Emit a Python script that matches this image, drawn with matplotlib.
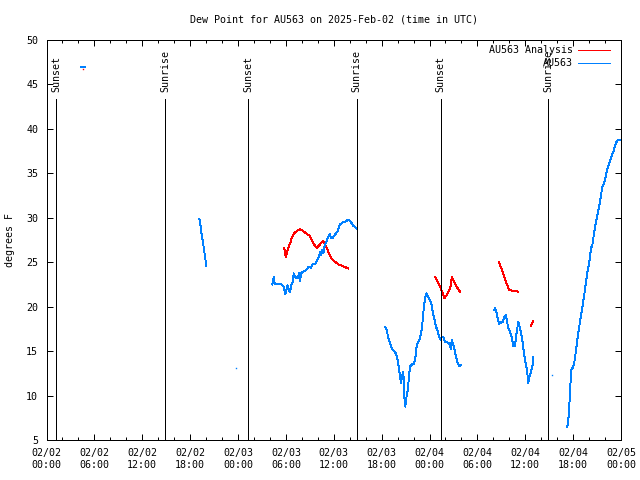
from datetime import datetime
import numpy as np
import matplotlib
matplotlib.use("Agg")
import matplotlib.pyplot as plt
import matplotlib.dates as mdates

nan = np.nan

# hours after 2025-02-02 00:00 UTC, nan separates data gaps
obs_hours = [4.29, 4.79, nan,
             19.15, 19.28, 19.40, 19.53, 19.65, 19.78, 19.90, 20.03, nan,
             23.75, nan,
             28.30, 28.51, 28.60, 29.48, 29.68, 29.93, 30.05, 30.23, 30.35, 30.52,
             30.68, 30.86, 30.98, 31.14, 31.31, 31.52, 31.65, 31.77, 31.93, 32.11,
             32.44, 32.69, 32.86, 33.11, 33.36, 33.65, 33.94, 34.15, 34.28, 34.40,
             34.57, 34.69, 34.90, 35.12, 35.32, 35.53, 35.66, 35.87, 36.16, 36.45,
             36.66, 36.78, 37.20, 37.54, 37.82, 38.13, 38.45, 38.88, nan,
             42.46, 42.64, 42.84, 43.05, 43.26, 43.55, 43.80, 44.02, 44.18, 44.30,
             44.43, 44.55, 44.72, 44.84, 44.97, 45.09, 45.27, 45.39, 45.56, 45.81,
             46.06, 46.27, 46.40, 46.60, 46.81, 47.02, 47.15, 47.22, 47.35, 47.53,
             47.65, 47.85, 48.06, 48.28, 48.40, 48.60, 48.82, 49.03, 49.23, 49.41,
             49.53, 49.73, 49.94, 50.36, 50.57, 50.70, 50.78, 50.91, 51.07, 51.32,
             51.49, 51.70, 51.91, nan,
             56.09, 56.21, 56.34, 56.50, 56.71, 56.92, 57.18, 57.38, 57.55, 57.68,
             57.88, 58.09, 58.30, 58.50, 58.72, 58.84, 59.01, 59.13, 59.26, 59.47,
             59.63, 59.76, 59.88, 60.01, 60.18, 60.31, 60.38, 60.51, 60.68, 60.81,
             60.94, 61.01, nan,
             63.39, nan,
             65.27, 65.40, 65.52, 65.61, 65.70, 65.77, 66.02, 66.20, 66.36, 66.53,
             66.70, 66.86, 67.03, 67.20, 67.36, 67.53, 67.70, 67.83, 67.99, 68.12,
             68.24, 68.41, 68.53, 68.66, 68.83, 68.96, 69.08, 69.21, 69.37, 69.50,
             69.66, 69.87, 70.03, 70.21, 70.37, 70.54, 70.71, 70.87, 71.04, 71.21,
             71.38, 71.54, 71.88]
obs_dewpt = [47.0, 47.0, nan,
             29.9, 29.3, 28.4, 27.7, 27.0, 26.2, 25.4, 24.6, nan,
             13.07, nan,
             22.5, 23.4, 22.5, 22.5, 22.3, 21.4, 21.9, 22.4, 22.0, 21.6,
             22.4, 22.74, 23.75, 23.4, 23.2, 23.26, 23.75, 22.9, 23.75, 23.9,
             24.05, 24.3, 24.5, 24.38, 24.75, 24.75, 25.25, 25.6, 26.2, 25.8,
             26.4, 26.0, 27.0, 27.4, 27.9, 28.15, 27.7, 27.76, 28.1, 28.45,
             29.0, 29.26, 29.5, 29.6, 29.8, 29.55, 29.1, 28.8, nan,
             17.68, 17.37, 16.44, 15.9, 15.3, 15.05, 14.7, 14.0, 12.95, 12.1,
             11.4, 12.1, 12.7, 9.9, 8.75, 9.7, 10.6, 11.75, 13.3, 13.5,
             13.6, 14.55, 15.7, 16.05, 16.44, 17.4, 18.5, 19.25, 20.4, 21.3,
             21.5, 21.05, 20.75, 20.2, 19.43, 18.7, 17.75, 17.2, 16.55, 16.25,
             16.6, 16.55, 16.06, 15.95, 15.7, 15.2, 16.25, 15.95, 15.43, 14.4,
             13.8, 13.3, 13.4, nan,
             19.6, 19.8, 19.6, 18.87, 18.05, 18.2, 18.3, 18.87, 19.06, 18.5,
             17.56, 17.2, 16.6, 15.57, 15.57, 16.6, 17.56, 18.3, 17.9, 17.0,
             16.25, 15.3, 14.56, 13.8, 13.07, 12.1, 11.45, 12.1, 12.57, 13.07,
             13.44, 14.3, nan,
             12.28, nan,
             6.43, 7.25, 8.8, 10.37, 11.94, 12.87, 13.25, 14.0, 15.12, 16.25,
             17.37, 18.3, 19.25, 20.2, 21.1, 22.25, 23.37, 24.1, 24.87, 25.6,
             26.57, 26.94, 27.7, 28.43, 29.37, 29.94, 30.5, 31.06, 31.8, 32.56,
             33.5, 33.87, 34.43, 35.18, 35.75, 36.2, 36.58, 37.06, 37.43, 37.93,
             38.45, 38.68, 38.75]

ana_hours = [4.61, nan,
             29.80, 29.98, 30.10, 30.30, 30.52, 30.77, 31.02, 31.36, 31.77, 32.11,
             32.52, 32.94, 33.24, 33.53, 33.86, 34.19, 34.62, 34.90, 35.12, 35.41,
             35.74, 36.16, 36.57, 37.00, 37.41, 37.82, nan,
             48.69, 48.98, 49.32, 49.61, 49.86, 50.16, 50.48, 50.70, 50.78, 50.98,
             51.29, 51.54, 51.82, nan,
             56.71, 56.92, 57.18, 57.38, 57.59, 57.80, 58.00, 58.50, 59.06, nan,
             60.72, 61.01]
ana_dewpt = [46.7, nan,
             26.6, 25.6, 25.9, 26.6, 27.1, 27.8, 28.25, 28.5, 28.7, 28.55,
             28.25, 28.0, 27.5, 27.0, 26.6, 26.9, 27.4, 27.0, 26.6, 26.0,
             25.4, 25.06, 24.76, 24.6, 24.45, 24.3, nan,
             23.37, 22.9, 22.25, 21.6, 20.95, 21.3, 21.87, 22.4, 23.37, 23.0,
             22.4, 22.06, 21.7, nan,
             25.0, 24.5, 23.93, 23.37, 22.8, 22.3, 21.87, 21.76, 21.7, nan,
             17.86, 18.4]

sun_hours = [1.2, 14.88, 25.27, 38.88, 49.38, 62.88]
sun_labels = ["Sunset", "Sunrise", "Sunset", "Sunrise", "Sunset", "Sunrise"]

plt.rcParams["font.family"] = ["DejaVu Sans Mono"]
plt.rcParams["font.size"] = 7.2

start = mdates.date2num(datetime(2025, 2, 2))


def to_x(hours):
    return start + np.asarray(hours, dtype=float) / 24.0


fig = plt.figure(figsize=(6.4, 4.8), dpi=100)
ax = fig.add_axes([46.5 / 640, 40 / 480, 574.5 / 640, 400 / 480])


def draw(hours, vals, color):
    x = to_x(hours)
    y = np.asarray(vals, dtype=float)
    ax.plot(x, y, color=color, lw=0.7, antialiased=False)
    ok = ~np.isnan(y)
    prev = np.r_[False, ok[:-1]]
    nxt = np.r_[ok[1:], False]
    lone = ok & ~prev & ~nxt
    ax.plot(x[lone], y[lone], ls="none", marker="s", ms=1.0, mew=0, color=color)


draw(ana_hours, ana_dewpt, "#ff0000")
draw(obs_hours, obs_dewpt, "#0080ff")

ax.vlines(to_x(sun_hours), 5, 43.4, colors="black", lw=0.72, antialiased=False)
for h, lab in zip(sun_hours, sun_labels):
    ax.text(to_x(h), 44.18, lab, rotation=90, ha="center", va="bottom")

# legend, gnuplot style (text right aligned, sample on the right)
for yy, lab, col in [(0.975, "AU563 Analysis", "#ff0000"), (0.9425, "AU563", "#0080ff")]:
    ax.text(0.9164, yy, lab, transform=ax.transAxes, ha="right", va="center")
    ax.plot([0.9252, 0.98], [yy, yy], transform=ax.transAxes, color=col,
            lw=0.7, antialiased=False)

ax.set_xlim(start, start + 3)
ax.set_ylim(5, 50)
ax.set_yticks(range(5, 51, 5))
ax.xaxis.set_major_locator(mdates.HourLocator(byhour=range(0, 24, 6)))
ax.xaxis.set_minor_locator(mdates.HourLocator(byhour=range(0, 24, 2)))
ax.xaxis.set_major_formatter(mdates.DateFormatter("%m/%d\n%H:%M"))
ax.tick_params(direction="in", top=True, right=True, length=4, width=0.72, pad=6,
               labelsize=7.2)
ax.tick_params(which="minor", direction="in", top=True, length=2.5, width=0.72)
for s in ax.spines.values():
    s.set_linewidth(0.72)

fig.text(333.7 / 640, 1 - 19 / 480, "Dew Point for AU563 on 2025-Feb-02 (time in UTC)",
         ha="center", va="center")
fig.text(10 / 640, 0.5, "degrees F", rotation=90, ha="center", va="center")

fig.savefig("out.png", dpi=100)
